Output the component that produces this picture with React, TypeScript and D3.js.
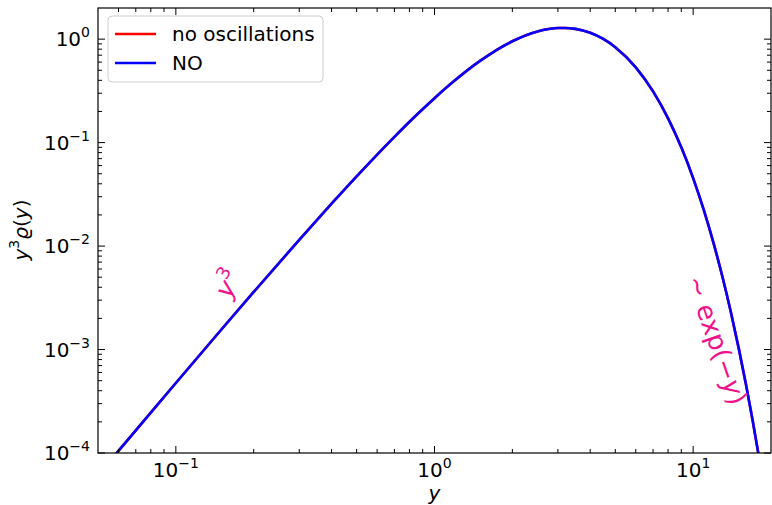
import * as d3 from 'd3'

const ys = [0.05, 0.06, 0.08, 0.1, 0.15, 0.2, 0.3, 0.4, 0.5, 0.7, 0.85, 1, 1.2, 1.5, 2, 2.5, 2.8, 3, 3.2, 3.5, 4, 5, 6, 7, 8, 9, 10, 11, 12, 13, 14, 15, 16, 17, 18, 19, 20]
const noOsc = [6.09e-5, 1.048e-4, 2.458e-4, 4.75e-4, 1.561e-3, 3.601e-3, 0.01149, 0.02568, 0.04719, 0.1138, 0.1839, 0.2689, 0.4, 0.6157, 0.9536, 1.1853, 1.2584, 1.2805, 1.2834, 1.2568, 1.1511, 0.8366, 0.5341, 0.3125, 0.1717, 0.08996, 0.0454, 0.02223, 0.010617, 0.004966, 0.002282, 0.001032, 4.609e-4, 2.034e-4, 8.882e-5, 3.843e-5, 1.649e-5]
const normalOrdering = [6.09e-5, 1.048e-4, 2.458e-4, 4.75e-4, 1.561e-3, 3.601e-3, 0.01149, 0.02568, 0.04719, 0.1138, 0.1839, 0.2689, 0.4, 0.6157, 0.9536, 1.1853, 1.2584, 1.2805, 1.2834, 1.2568, 1.1511, 0.8366, 0.5341, 0.3125, 0.1717, 0.08996, 0.0454, 0.02223, 0.010617, 0.004966, 0.002282, 0.001032, 4.609e-4, 2.034e-4, 8.882e-5, 3.843e-5, 1.649e-5]
const xMajor = [-1, 0, 1]
const yMajor = [-4, -3, -2, -1, 0]

const W = 772, H = 505
const m = { left: 98, right: 771, top: 8, bottom: 453 }
const font = 'DejaVu Sans, sans-serif'
const pink = '#f0128c'
const FS = 20
const SUP = 14

export default function App() {
  const x = d3.scaleLog().domain([0.05, 20]).range([m.left, m.right])
  const y = d3.scaleLog().domain([1e-4, 2]).range([m.bottom, m.top])

  const line = (vals: number[]) =>
    d3.line<number>()
      .x((_, i) => x(ys[i]))
      .y(d => y(d))
      .curve(d3.curveMonotoneX)(vals) || ''

  const minor = (lo: number, hi: number) => {
    const out: number[] = []
    for (let e = -5; e <= 2; e++)
      for (let k = 2; k <= 9; k++) {
        const v = k * Math.pow(10, e)
        if (v > lo && v < hi) out.push(v)
      }
    return out
  }
  const xMinor = minor(0.05, 20)
  const yMinor = minor(1e-4, 2)
  const MAJ = 7, MIN = 4

  const sup = (e: number) => (e < 0 ? '\u2212' + -e : String(e))

  return (
    <svg width={W} height={H} style={{ position: 'absolute', left: 0, top: 0, background: '#fff' }} fontFamily={font}>
      <defs>
        <clipPath id="plot">
          <rect x={m.left} y={m.top} width={m.right - m.left} height={m.bottom - m.top} />
        </clipPath>
      </defs>

      <g clipPath="url(#plot)" fill="none" strokeWidth={2.6}>
        <path d={line(noOsc)} stroke="#ff0000" />
        <path d={line(normalOrdering)} stroke="#0000ff" />
      </g>

      {/* ticks, inward on all four sides */}
      <g stroke="#000" strokeWidth={1}>
        {xMajor.map(e => {
          const px = x(Math.pow(10, e))
          return (
            <g key={'xm' + e}>
              <line x1={px} x2={px} y1={m.bottom} y2={m.bottom - MAJ} />
              <line x1={px} x2={px} y1={m.top} y2={m.top + MAJ} />
            </g>
          )
        })}
        {xMinor.map(v => (
          <g key={'xn' + v}>
            <line x1={x(v)} x2={x(v)} y1={m.bottom} y2={m.bottom - MIN} />
            <line x1={x(v)} x2={x(v)} y1={m.top} y2={m.top + MIN} />
          </g>
        ))}
        {yMajor.map(e => {
          const py = y(Math.pow(10, e))
          return (
            <g key={'ym' + e}>
              <line x1={m.left} x2={m.left + MAJ} y1={py} y2={py} />
              <line x1={m.right} x2={m.right - MAJ} y1={py} y2={py} />
            </g>
          )
        })}
        {yMinor.map(v => (
          <g key={'yn' + v}>
            <line x1={m.left} x2={m.left + MIN} y1={y(v)} y2={y(v)} />
            <line x1={m.right} x2={m.right - MIN} y1={y(v)} y2={y(v)} />
          </g>
        ))}
      </g>

      <rect x={m.left} y={m.top} width={m.right - m.left} height={m.bottom - m.top} fill="none" stroke="#000" strokeWidth={1.2} />

      {/* tick labels */}
      <g fontSize={FS} fill="#000">
        {xMajor.map(e => (
          <text key={'xl' + e} x={x(Math.pow(10, e))} y={477} textAnchor="middle">
            10<tspan fontSize={SUP} dy={-9}>{sup(e)}</tspan>
          </text>
        ))}
        {yMajor.map(e => (
          <text key={'yl' + e} x={90} y={y(Math.pow(10, e)) + 7} textAnchor="end">
            10<tspan fontSize={SUP} dy={-9}>{sup(e)}</tspan>
          </text>
        ))}
      </g>

      {/* axis labels */}
      <text x={(m.left + m.right) / 2} y={500} textAnchor="middle" fontSize={FS} fontStyle="italic">y</text>
      <text transform="translate(28,230) rotate(-90)" textAnchor="middle" fontSize={FS}>
        <tspan fontStyle="italic">y</tspan>
        <tspan fontSize={SUP} dy={-9}>3</tspan>
        <tspan fontStyle="italic" dy={9}>ϱ</tspan>
        <tspan>(</tspan>
        <tspan fontStyle="italic">y</tspan>
        <tspan>)</tspan>
      </text>

      {/* annotations */}
      <text transform="translate(236,288) rotate(-62)" textAnchor="middle" fontSize={26} fill={pink}>
        <tspan fontStyle="italic">y</tspan>
        <tspan fontSize={18} dy={-12}>3</tspan>
      </text>
      <text transform="translate(708,343) rotate(71)" textAnchor="middle" fontSize={26} fill={pink}>
        ∼ exp(−<tspan fontStyle="italic">y</tspan>)
      </text>

      {/* legend */}
      <g>
        <rect x={108} y={16} width={215} height={66} rx={4} fill="#fff" fillOpacity={0.8} stroke="#cccccc" strokeWidth={1} />
        <line x1={115} x2={156} y1={34} y2={34} stroke="#ff0000" strokeWidth={2.6} />
        <line x1={115} x2={156} y1={63} y2={63} stroke="#0000ff" strokeWidth={2.6} />
        <text x={172} y={41} fontSize={FS}>no oscillations</text>
        <text x={172} y={70} fontSize={FS}>NO</text>
      </g>
    </svg>
  )
}
